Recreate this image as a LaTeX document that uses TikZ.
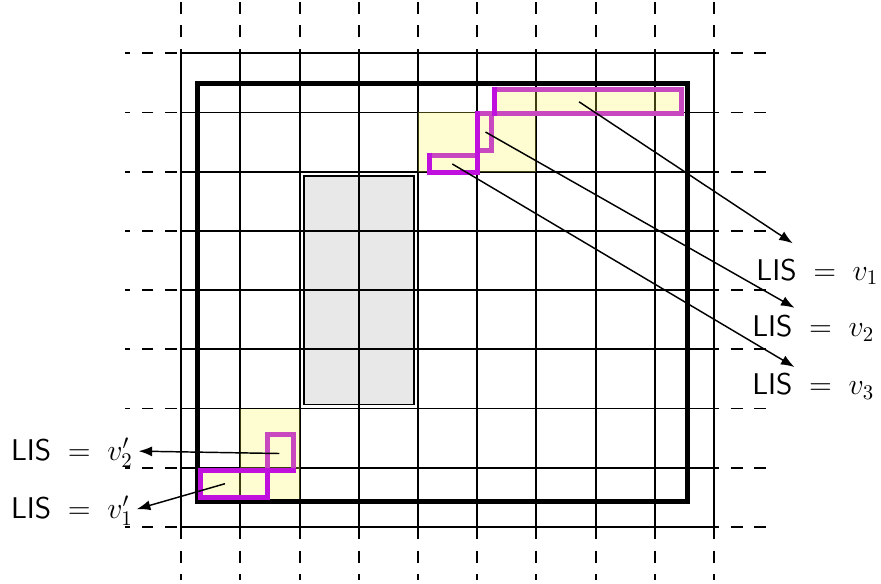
\documentclass[tikz,border=0pt]{standalone}
\usepackage{amsmath,amssymb}
\usepackage{xcolor}
\usepackage{tikz}
\usetikzlibrary{arrows.meta}

\definecolor{lisviolet}{RGB}{192,16,222}
\definecolor{lispink}{RGB}{200,72,192}
\definecolor{cellyellow}{RGB}{250,242,70}

\begin{document}
\begin{tikzpicture}[
  gridline/.style={black, line width=0.9pt},
  extdash/.style={black, line width=0.9pt, dash pattern=on 5.7pt off 5.7pt},
  cellfill/.style={fill=cellyellow, fill opacity=0.25},
  lisedge/.style={line width=2.4pt, line cap=rect},
  lisarrow/.style={-{Latex[length=2.3mm,width=1.7mm]}, line width=0.7pt},
  lislabel/.style={font=\Large, inner sep=0pt, anchor=base west}
]
\useasboundingbox (-3.06,-0.95) rectangle (11.82,8.9);
% ---- blocked region ----
\draw[fill=gray!18, line width=0.8pt] (2.07,2.07) rectangle (3.93,5.93);
% ---- grid with dashed continuation ----
\foreach \i in {0,...,9} {
  \draw[gridline] (\i,0) -- (\i,8);
  \draw[extdash, dash phase=3.7pt] (\i,8) -- (\i,8.9);
  \draw[extdash] (\i,0) -- (\i,-0.9);
}
\foreach \j in {0,...,8} {
  \draw[gridline] (0,\j) -- (9,\j);
  \draw[extdash, dash phase=9.5pt] (0,\j) -- (-0.95,\j);
  \draw[extdash, dash phase=3.4pt] (9,\j) -- (9.95,\j);
}
% ---- highlighted cells ----
\fill[cellfill] (4,6) rectangle (6,7);
\fill[cellfill] (5.29,6.98) rectangle (8.45,7.38);
\fill[cellfill] (1,0.43) rectangle (2,2);
\fill[cellfill] (0.33,0.5) rectangle (1,0.95);
% ---- frame ----
\draw[line width=2.4pt] (0.27,0.43) rectangle (8.55,7.49);
% ---- upper staircase ----
\draw[lisedge, lispink] (4.19,5.98) rectangle (5.0,6.28);
\draw[lisedge, lispink] (5.0,6.35) rectangle (5.24,6.98);
\draw[lisedge, lispink] (5.29,6.98) rectangle (8.45,7.38);
\draw[lisedge, lisviolet] (4.19,6.28) -- (4.19,5.98) -- (5.0,5.98) -- (5.0,6.98);
\draw[lisedge, lisviolet] (5.29,6.98) -- (5.29,7.38);
% ---- lower staircase ----
\draw[lisedge, lispink] (1.45,0.95) rectangle (1.9,1.56);
\draw[lisedge, lisviolet] (0.33,0.5) rectangle (1.45,0.95);
\draw[lisedge, lisviolet] (1.45,0.95) -- (1.9,0.95);
% ---- labels ----
\node[lislabel] (lab1) at (9.71,4.17) {$\mathsf{LIS}\;=\;v_1$};
\node[lislabel] (lab2) at (9.64,3.21) {$\mathsf{LIS}\;=\;v_2$};
\node[lislabel] (lab3) at (9.64,2.23) {$\mathsf{LIS}\;=\;v_3$};
\node[lislabel] (labL2) at (-2.88,1.13) {$\mathsf{LIS}\;=\;v'_2$};
\node[lislabel] (labL1) at (-2.88,0.15) {$\mathsf{LIS}\;=\;v'_1$};
% ---- arrows from cells to labels ----
\coordinate (s1) at (6.72,7.18);
\coordinate (s2) at (5.14,6.67);
\coordinate (s3) at (4.58,6.13);
\coordinate (s4) at (1.66,1.24);
\coordinate (s5) at (0.74,0.73);
\coordinate (t1) at (10.33,4.79);
\coordinate (t2) at (10.36,3.70);
\coordinate (t3) at (10.36,2.70);
\coordinate (t4) at (-0.72,1.28);
\coordinate (t5) at (-0.75,0.30);
\draw[lisarrow] (s1) -- (t1);
\draw[lisarrow] (s2) -- (t2);
\draw[lisarrow] (s3) -- (t3);
\draw[lisarrow] (s4) -- (t4);
\draw[lisarrow] (s5) -- (t5);
\end{tikzpicture}
\end{document}
